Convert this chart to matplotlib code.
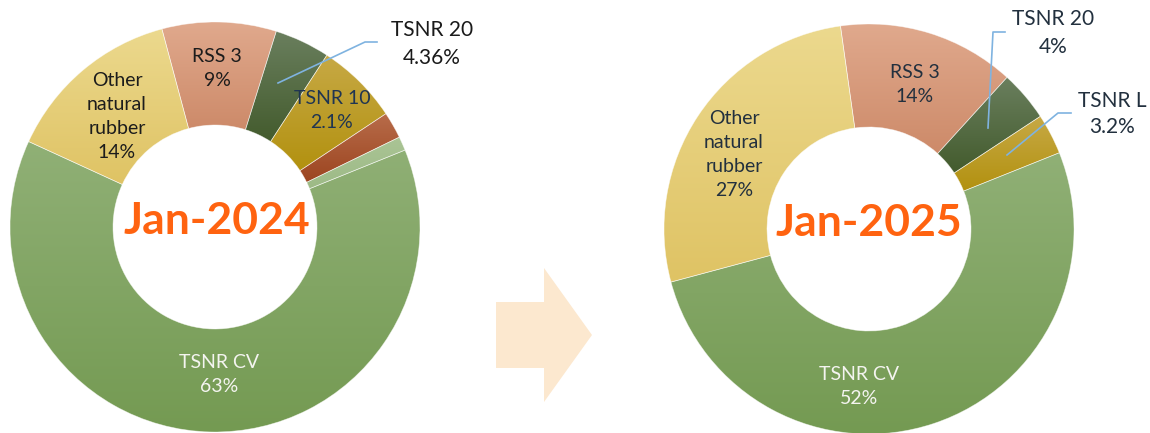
import matplotlib.pyplot as plt
import numpy as np
from matplotlib.colors import LinearSegmentedColormap
from matplotlib.patches import Polygon

# rubber grade shares, clockwise from the RSS 3 slice
grades_2024 = ["RSS 3", "TSNR 20", "TSNR L", "TSNR 10", "Other TSNR", "TSNR CV", "Other natural rubber"]
share_2024 = [9, 4.36, 6.5, 2.1, 1.1, 63, 14]

grades_2025 = ["RSS 3", "TSNR 20", "TSNR L", "TSNR CV", "Other natural rubber"]
share_2025 = [14, 4, 3.2, 52, 27]

# top / bottom colour of each slice's gradient fill
shade = {
    "RSS 3": ("#e0a98d", "#cd8a69"),
    "TSNR 20": ("#6a7f5e", "#435b2d"),
    "TSNR L": ("#c7a945", "#b2910f"),
    "TSNR 10": ("#b86c4a", "#9c4520"),
    "Other TSNR": ("#aac495", "#9dba86"),
    "TSNR CV": ("#90b076", "#749a52"),
    "Other natural rubber": ("#ecd98e", "#dfc364"),
}

W, H = 1150, 433
FONT = "Lato"

fig = plt.figure(figsize=(W / 100, H / 100), dpi=100)
ax = fig.add_axes([0, 0, 1, 1])


def donut(values, names, center, start):
    # y axis is flipped below, so counterclock=True runs clockwise on screen
    wedges, _ = ax.pie(values, startangle=start - 90, counterclock=True,
                       radius=205, center=center,
                       wedgeprops=dict(width=103, facecolor="none",
                                       edgecolor=(1, 1, 1, 0.55), linewidth=0.5))
    grad = np.linspace(0, 1, 256).reshape(-1, 1)
    for w, name in zip(wedges, names):
        top, bottom = shade[name]
        cmap = LinearSegmentedColormap.from_list(name, [top, bottom])
        ext = w.get_path().get_extents()
        im = ax.imshow(grad, cmap=cmap, origin="upper", aspect="auto",
                       extent=(ext.x0, ext.x1, ext.y1, ext.y0), zorder=0.5,
                       interpolation="bilinear")
        im.set_clip_path(w)


donut(share_2024, grades_2024, (215, 227), -15)
donut(share_2025, grades_2025, (869, 229), -8)

ax.set_xlim(0, W)
ax.set_ylim(H, 0)
ax.set_aspect("equal")
ax.axis("off")

# centre titles
ax.text(217, 221, "Jan-2024", ha="center", va="center", fontsize=32,
        fontweight="bold", color="#ff6310", family=FONT, zorder=5)
ax.text(869, 223, "Jan-2025", ha="center", va="center", fontsize=32,
        fontweight="bold", color="#ff6310", family=FONT, zorder=5)

inner = dict(ha="center", va="center", fontsize=14, family=FONT,
             linespacing=1.5, zorder=5)
outer = dict(ha="center", va="center", fontsize=15, family=FONT,
             linespacing=1.5, zorder=5)

# 2024 labels
ax.text(117, 116, "Other\nnatural\nrubber\n14%", color="#1c1c1c", **inner)
ax.text(217, 68, "RSS 3\n9%", color="#1c1c1c", **inner)
ax.text(332, 110, "TSNR 10\n2.1%", color="#1f3552", **inner)
ax.text(219, 374, "TSNR CV\n63%", color="#f4f4f0", **inner)
ax.text(432, 44, "TSNR 20\n4.36%", color="#1a1a1a", **outer)

# 2025 labels
ax.text(734, 154, "Other\nnatural\nrubber\n27%", color="#22303e", **inner)
ax.text(915, 85, "RSS 3\n14%", color="#22303e", **inner)
ax.text(859, 387, "TSNR CV\n52%", color="#f4f4f0", **inner)
ax.text(1053, 33, "TSNR 20\n4%", color="#22303e", **outer)
ax.text(1112, 114, "TSNR L\n3.2%", color="#22303e", linespacing=1.4,
        **{k: v for k, v in outer.items() if k != "linespacing"})

# leader lines
lead = dict(color="#7fb3e0", lw=1.2, zorder=4)
ax.plot([278, 365, 377], [83, 42, 42], **lead)
ax.plot([988, 993, 1005], [128, 32, 32], **lead)
ax.plot([1007, 1058, 1071], [155, 113, 113], **lead)

# arrow between the two years
ax.add_patch(Polygon([(496, 302), (544, 302), (544, 268), (592, 335),
                      (544, 402), (544, 368), (496, 368)],
                     closed=True, facecolor="#fce8cf", edgecolor="none"))

fig.savefig("out.png", dpi=100)
